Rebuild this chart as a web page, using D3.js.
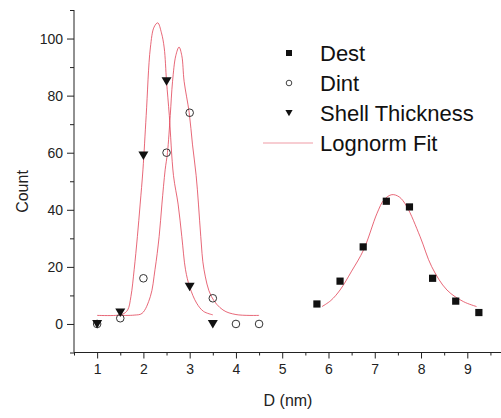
<!DOCTYPE html>
<html>
<head>
<meta charset="utf-8">
<script src="https://cdn.jsdelivr.net/npm/d3@7"></script>
<style>
  body { margin: 0; background: #fff; }
  svg { display: block; font-family: "Liberation Sans", Arial, sans-serif; }
</style>
</head>
<body>
<div class="container"></div>
<script>
const w = 501;
const h = 418;

// measured points
const destX = [5.75, 6.25, 6.75, 7.25, 7.75, 8.25, 8.75, 9.25];
const destY = [7, 15, 27, 43, 41, 16, 8, 4];
const dintX = [1, 1.5, 2, 2.5, 3, 3.5, 4, 4.5];
const dintY = [0, 2, 16, 60, 74, 9, 0, 0];
const shellX = [1, 1.5, 2, 2.5, 3, 3.5];
const shellY = [0, 4, 59, 85, 13, 0];

// lognormal fit curves
const shellFitX = [1, 1.4, 1.55, 1.66, 1.73, 1.8, 1.87, 1.93, 1.99, 2.06, 2.15, 2.23, 2.31, 2.39, 2.45, 2.5, 2.56, 2.65, 2.75, 2.83, 2.91, 3.0, 3.15, 3.3, 3.5];
const shellFitY = [3, 3, 3.4, 4.9, 9.6, 19, 30.6, 42, 54, 73, 96.7, 104, 105.5, 102, 96.7, 85, 73, 52, 42, 30.6, 19, 13, 7.3, 4.4, 3.2];
const dintFitX = [1.5, 1.8, 1.97, 2.15, 2.25, 2.34, 2.4, 2.47, 2.52, 2.58, 2.63, 2.7, 2.77, 2.83, 2.88, 2.99, 3.06, 3.14, 3.19, 3.24, 3.31, 3.47, 3.72, 4.0, 4.5];
const dintFitY = [3, 3.1, 3.7, 9.6, 19, 30.6, 42, 54, 60, 73, 85, 94, 97, 94, 85, 74, 63, 52, 42, 30.6, 19, 9.6, 4.9, 3.3, 3];
const destFitX = [5.86, 6.05, 6.25, 6.5, 6.76, 7.05, 7.2, 7.37, 7.53, 7.69, 7.98, 8.23, 8.56, 8.92, 9.2];
const destFitY = [6.1, 8.2, 11.9, 18.5, 26, 38.8, 43.5, 45.3, 44.5, 41.2, 30.6, 20.1, 11.9, 7.8, 6.1];

const xTicks = [1, 2, 3, 4, 5, 6, 7, 8, 9];
const yTicks = [0, 20, 40, 60, 80, 100];
const legendNames = ["Dest", "Dint", "Shell Thickness", "Lognorm Fit"];

const margin = { top: 10, left: 74, bottom: 65, right: 0 };
const plotBottom = 352.5;
const fitColor = "#e0384e";

const svg = d3.select('.container').append('svg')
  .attr('width', w)
  .attr('height', h);

const x = d3.scaleLinear().domain([0.5, 9.75]).range([margin.left, 502]);
const y = d3.scaleLinear().domain([-10, 110]).range([plotBottom, margin.top]);

// axes
const xAxis = d3.axisBottom(x).tickValues(xTicks).tickSize(6).tickPadding(6).tickFormat(d3.format('d'));
const xMinor = d3.axisBottom(x).tickValues(d3.range(0.5, 9.6, 1)).tickSize(3).tickFormat('');
const yAxis = d3.axisLeft(y).tickValues(yTicks).tickSize(7).tickPadding(4);
const yMinor = d3.axisLeft(y).tickValues([-10, 10, 30, 50, 70, 90, 110]).tickSize(4).tickFormat('');

function styleAxis(g) {
  g.selectAll('line').attr('stroke', '#222');
  g.selectAll('text').attr('font-size', 14).attr('fill', '#222')
    .attr('font-family', '"Liberation Sans", Arial, sans-serif');
}

svg.append('g').attr('transform', `translate(0,${plotBottom})`).call(xMinor).call(styleAxis);
svg.append('g').attr('transform', `translate(0,${plotBottom})`).call(xAxis).call(styleAxis);
svg.append('g').attr('transform', `translate(${margin.left},0)`).call(yMinor).call(styleAxis);
svg.append('g').attr('transform', `translate(${margin.left},0)`).call(yAxis).call(styleAxis);
svg.selectAll('.domain').remove();

svg.append('line').attr('x1', margin.left).attr('x2', margin.left)
  .attr('y1', y(110)).attr('y2', plotBottom).attr('stroke', '#222');
svg.append('line').attr('x1', margin.left).attr('x2', 502)
  .attr('y1', plotBottom).attr('y2', plotBottom).attr('stroke', '#222');

// titles
svg.append('text')
  .attr('x', 288).attr('y', 406)
  .attr('text-anchor', 'middle')
  .attr('font-size', 16).attr('fill', '#222')
  .text('D (nm)');

svg.append('text')
  .attr('transform', 'translate(28,191.5) rotate(-90)')
  .attr('text-anchor', 'middle')
  .attr('font-size', 16).attr('fill', '#222')
  .text('Count');

// fit curves
const line = d3.line()
  .x(d => x(d[0]))
  .y(d => y(d[1]))
  .curve(d3.curveCatmullRom.alpha(0.5));

[[shellFitX, shellFitY], [dintFitX, dintFitY], [destFitX, destFitY]].forEach(([xs, ys]) => {
  svg.append('path')
    .datum(xs.map((d, i) => [d, ys[i]]))
    .attr('d', line)
    .attr('fill', 'none')
    .attr('stroke', fitColor)
    .attr('stroke-width', 0.9)
    .attr('stroke-opacity', 0.85);
});

// markers
const tri = s => `M${-s},${-s * 0.8}L${s},${-s * 0.8}L0,${s * 0.9}Z`;

svg.append('g').selectAll('circle')
  .data(dintX.map((d, i) => [d, dintY[i]]))
  .enter().append('circle')
  .attr('cx', d => x(d[0]))
  .attr('cy', d => y(d[1]))
  .attr('r', 3.8)
  .attr('fill', 'none')
  .attr('stroke', '#333')
  .attr('stroke-width', 1);

svg.append('g').selectAll('path')
  .data(shellX.map((d, i) => [d, shellY[i]]))
  .enter().append('path')
  .attr('transform', d => `translate(${x(d[0])},${y(d[1])})`)
  .attr('d', tri(5))
  .attr('fill', '#111');

svg.append('g').selectAll('rect')
  .data(destX.map((d, i) => [d, destY[i]]))
  .enter().append('rect')
  .attr('x', d => x(d[0]) - 3.6)
  .attr('y', d => y(d[1]) - 3.6)
  .attr('width', 7.2)
  .attr('height', 7.2)
  .attr('fill', '#111');

// legend
const legend = svg.append('g');
const lgX = 289;
const lgY = [53, 83, 113, 143];

legend.append('rect').attr('x', lgX - 3).attr('y', lgY[0] - 3).attr('width', 6).attr('height', 6).attr('fill', '#111');
legend.append('circle').attr('cx', lgX).attr('cy', lgY[1]).attr('r', 2.8).attr('fill', 'none').attr('stroke', '#444');
legend.append('path').attr('transform', `translate(${lgX},${lgY[2]})`).attr('d', tri(3.6)).attr('fill', '#111');
legend.append('line').attr('x1', 263).attr('x2', 313).attr('y1', lgY[3]).attr('y2', lgY[3])
  .attr('stroke', fitColor).attr('stroke-opacity', 0.5).attr('stroke-width', 1);

legend.selectAll('text')
  .data(legendNames)
  .enter().append('text')
  .attr('x', 320)
  .attr('y', (d, i) => lgY[i])
  .attr('dy', '0.36em')
  .attr('font-size', 22)
  .attr('fill', '#111')
  .text(d => d);
</script>
</body>
</html>
